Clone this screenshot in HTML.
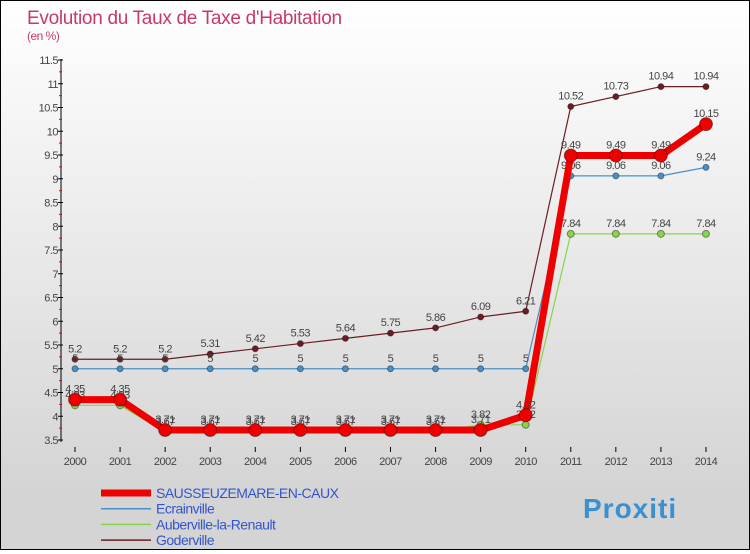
<!DOCTYPE html>
<html><head><meta charset="utf-8"><style>
body{margin:0}
#c{width:748px;height:548px;border:1px solid #000;background:linear-gradient(#fff,#d4d4d4 90%);position:relative;font-family:"Liberation Sans",sans-serif}
</style></head><body>
<div id="c">
<svg id="s" width="748" height="548"></svg>
</div>
<script>
const years=[2000,2001,2002,2003,2004,2005,2006,2007,2008,2009,2010,2011,2012,2013,2014];
const yTicks=[3.5,4,4.5,5,5.5,6,6.5,7,7.5,8,8.5,9,9.5,10,10.5,11,11.5];
const sausseuzemare=[4.35,4.35,3.71,3.71,3.71,3.71,3.71,3.71,3.71,3.71,4.02,9.49,9.49,9.49,10.15];
const ecrainville=[5,5,5,5,5,5,5,5,5,5,5,9.06,9.06,9.06,9.24];
const auberville=[4.23,4.23,3.67,3.67,3.67,3.67,3.67,3.67,3.67,3.82,3.82,7.84,7.84,7.84,7.84];
const goderville=[5.2,5.2,5.2,5.31,5.42,5.53,5.64,5.75,5.86,6.09,6.21,10.52,10.73,10.94,10.94];
const names=["SAUSSEUZEMARE-EN-CAUX","Ecrainville","Auberville-la-Renault","Goderville"];
const s=document.getElementById('s');const NS="http://www.w3.org/2000/svg";
const X=i=>74+i*45.07, Y=v=>439-(v-3.5)*47.5;
function el(t,a,p){const e=document.createElementNS(NS,t);for(const k in a)e.setAttribute(k,a[k]);(p||s).appendChild(e);return e;}
function tx(x,y,str,a){const e=el('text',Object.assign({x:x,y:y,'font-size':11,fill:'#444','letter-spacing':'-0.5'},a||{}));e.textContent=str;return e;}
let t=tx(26,23,"Evolution du Taux de Taxe d'Habitation",{'font-size':19,fill:'#c8386a','letter-spacing':'-0.3'});

t=tx(26,39,"(en %)",{'font-size':12,fill:'#c8386a'});

let ax=el('line',{x1:60,y1:58,x2:60,y2:441,stroke:'#000'});

yTicks.forEach((v,i)=>{el('line',{x1:57,x2:62,y1:Y(v),y2:Y(v),stroke:'#000'});
 if(i<yTicks.length-1)el('line',{x1:58,x2:61,y1:Y(v+0.25),y2:Y(v+0.25),stroke:'#e00'});
 const l=tx(57,Y(v)+4,String(v),{'text-anchor':'end'});});
years.forEach((y,i)=>{el('line',{x1:X(i),x2:X(i),y1:446,y2:451,stroke:'#000'});
 const l=tx(X(i),464,String(y),{'text-anchor':'middle'});});
function series(d,col,w,r,name,lab){
 const p=el('polyline',{points:d.map((v,i)=>X(i)+','+Y(v)).join(' '),fill:'none',stroke:col,'stroke-width':w});
 
 d.forEach((v,i)=>{const c=el('circle',{cx:X(i),cy:Y(v),r:r,fill:col,stroke:'rgba(0,0,0,0.4)'});
 
 if(lab){const l=tx(X(i),Y(v)-7,String(v),{'text-anchor':'middle'});}});
}
series(goderville,'#6b1d24',1.2,3,'goderville',true);
series(ecrainville,'#4a90c8',1.2,3,'ecrainville',true);
series(auberville,'#88d44a',1.2,3.5,'auberville',true);
series(sausseuzemare,'#ee0000',7,6.5,'sausseuzemare',true);
const cols=['#ee0000','#4a90c8','#88d44a','#6b1d24'],ws=[7,1.5,1.5,1.5];
names.forEach((n,i)=>{const y=492+i*15.7;
 const l=el('line',{x1:100,x2:150,y1:y,y2:y,stroke:cols[i],'stroke-width':ws[i]});
 
 const tt=tx(155,y+5,n,{'font-size':14,fill:'#3355cc'});});
const lg=tx(582,517,"Proxiti",{'font-size':28,'font-weight':'bold',fill:'#3a90d0','letter-spacing':'1'});

</script>
</body></html>
